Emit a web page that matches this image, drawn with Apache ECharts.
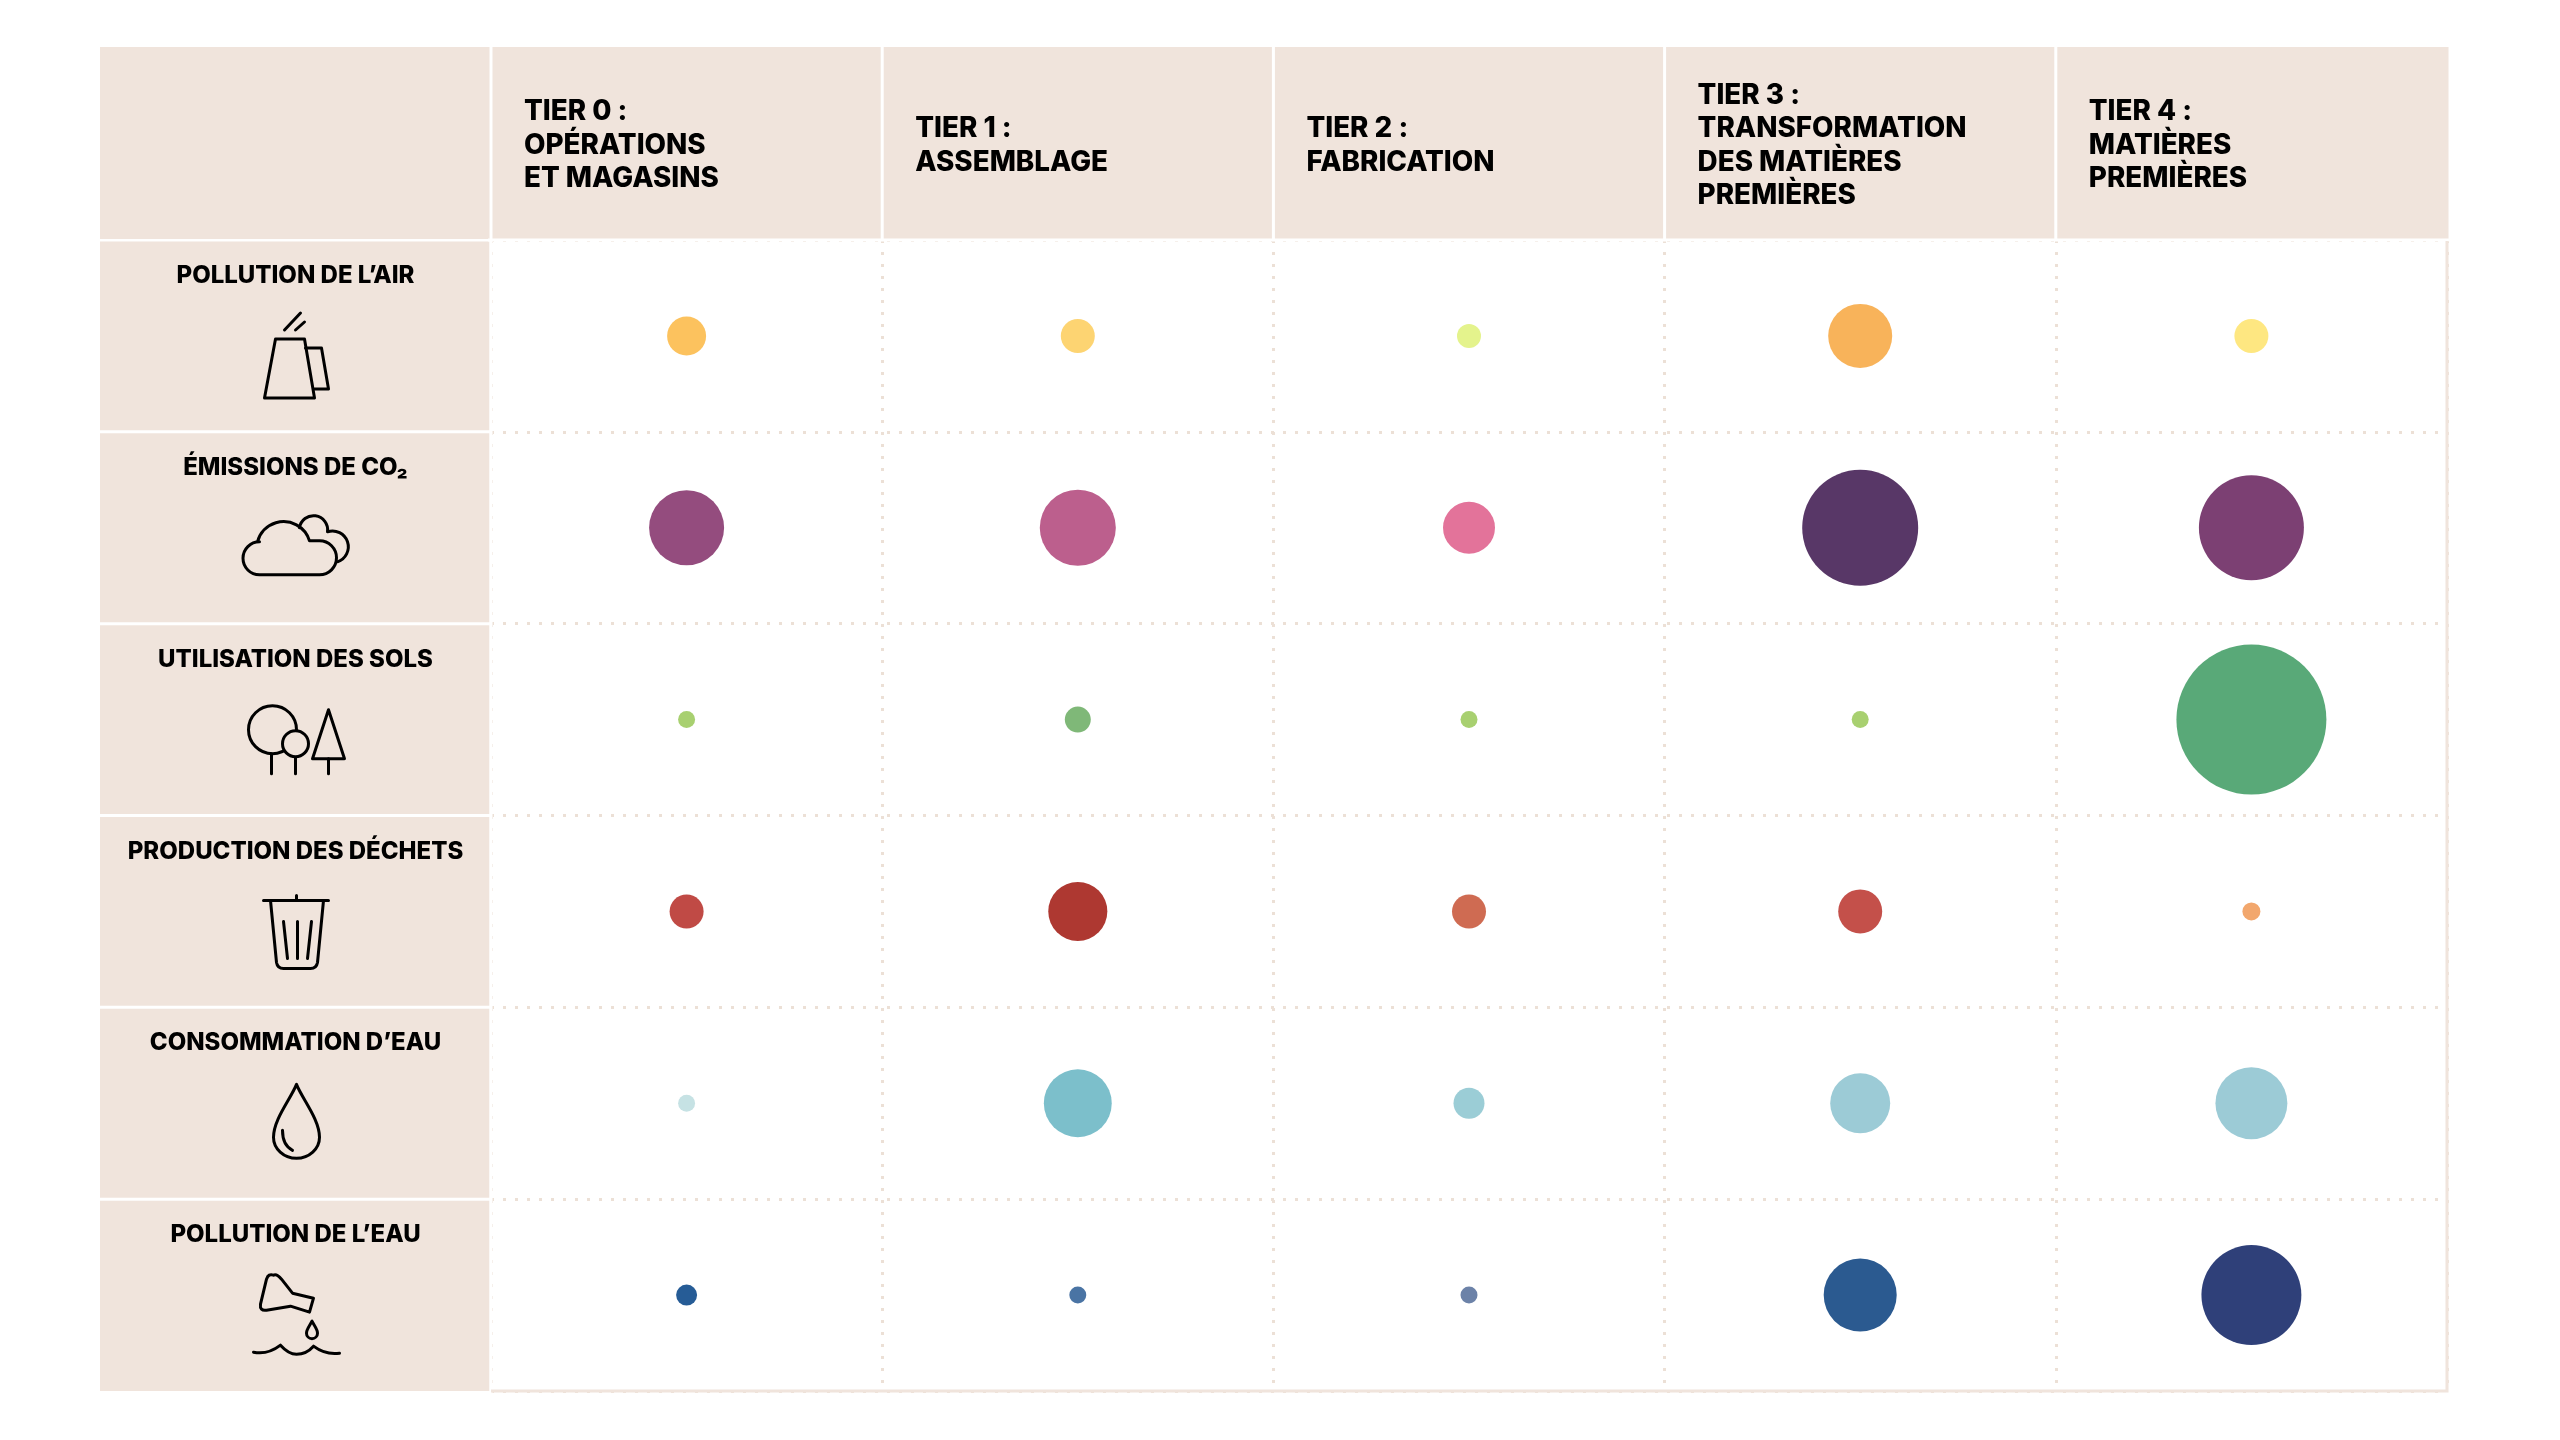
<!DOCTYPE html>
<html><head><meta charset="utf-8">
<style>html,body{margin:0;padding:0;background:#fff}#c{width:2560px;height:1440px}</style>
<script src="https://cdn.jsdelivr.net/npm/echarts@6/dist/echarts.min.js"></script>
</head><body><div id="c"></div>
<script>
// ---- data ----
const tiers = ['TIER 0 :\nOPÉRATIONS\nET MAGASINS','TIER 1 :\nASSEMBLAGE','TIER 2 :\nFABRICATION','TIER 3 :\nTRANSFORMATION\nDES MATIÈRES\nPREMIÈRES','TIER 4 :\nMATIÈRES\nPREMIÈRES'];
const impacts = ['POLLUTION DE L’AIR','ÉMISSIONS DE CO₂','UTILISATION DES SOLS','PRODUCTION DES DÉCHETS','CONSOMMATION D’EAU','POLLUTION DE L’EAU'];
const airPollution   = [6.76, 5.14, 2.56, 18.2, 5.14];
const co2Emissions   = [25, 25.7, 12, 59.8, 49];
const landUse        = [1.28, 3, 1.28, 1.28, 100];
const wasteOutput    = [5.14, 15.5, 5.14, 8.6, 1.44];
const waterUse       = [1.28, 20.5, 4.27, 16, 23];
const waterPollution = [1.96, 1.28, 1.28, 23.7, 44.4];
const rows = [airPollution, co2Emissions, landUse, wasteOutput, waterUse, waterPollution];

// ---- styles ----
const palette = [
 ['#fcc25e','#fdd472','#e4f38c','#f8b35a','#fee781'],
 ['#944c7e','#bc5f8d','#e3739a','#583767','#7c4073'],
 ['#a8d070','#7fb878','#a8d070','#a8d070','#59a978'],
 ['#c04a45','#ae3831','#cf6b52','#c4504a','#f2a76d'],
 ['#c6e2e4','#7cbfcb','#9bcdd6','#9ccbd6','#9ccbd6'],
 ['#265c96','#4a74a4','#6c82a8','#2b5a90','#2f4079']
];
const BEIGE='#f0e4dc', FONT='Inter, sans-serif';
const L=100, GL=491, GR=2447, HT=47, GT=240, GB=1391;
const cw=(GR-GL)/5, rh=(GB-GT)/6, cx0=(L+GL)/2;

const icons = [
 [{d:'M-20 99 H9 L19 158 H-31 Z'},{d:'M10 108 H26 L33 149 H19'},{d:'M-11 90 L5 73 M0 90 L9 82'}],
 [{d:'M4 96 A14 14 0 0 1 32 100 A15 15 0 0 1 42 130'},{d:'M-36 143 H24 A17 17 0 0 0 24 109 L14 109 A27 27 0 0 0 -38 110 H-36 A16.5 16.5 0 0 0 -36 143 Z'}],
 [{d:'M-24 130 V150 M0 133 V150 M33 135 V150'},{d:'M-47 106 a24 24 0 1 0 48 0 a24 24 0 1 0 -48 0 Z'},{d:'M-13 120 a13 13 0 1 0 26 0 a13 13 0 1 0 -26 0 Z',fill:BEIGE},{d:'M33 86 L49 135 H17 Z'}],
 [{d:'M-32 85 H33 M1 80 V85 M-25 85 L-19 147 Q-18 153 -12 153 H15 Q21 153 22 147 L28 85 M-12 106 L-8 143 M2 106 V143 M16 106 L12 143'}],
 [{d:'M1 77 C-5 92 -22 112 -22 130 A23 21 0 0 0 24 130 C24 112 7 92 1 77 Z M-13 123 C-13 133 -9 140 -3 143'}],
 [{d:'M-22 76 Q-27 74 -29 80 L-35 105 Q-36 112 -29 111 L-5 107 L14 113 L18 99 L-3 94 L-14 80 Q-19 74 -22 76 Z M16.5 122 C14 127 11 130 11 134 A5.5 5.5 0 0 0 22 134 C22 130 19 127 16.5 122 Z M-42 153 Q-28 156 -15 146 Q-7 155 1 155 Q11 155 18 147 Q30 156 44 154'}]
];

const graphics = [];
graphics.push({type:'rect',z:0,shape:{x:L,y:HT,width:GL-L-1.5,height:GT-HT-1},style:{fill:BEIGE}});
for(let i=0;i<5;i++){
  graphics.push({type:'rect',z:0,shape:{x:GL+i*cw+1.5,y:HT,width:cw-(i===4?0:3),height:GT-HT-1},style:{fill:BEIGE}});
}
let iconId=0;
impacts.forEach((_,r)=>{
  const top=GT+r*rh;
  graphics.push({type:'rect',z:0,shape:{x:L,y:top+1.5,width:GL-L-1.5,height:rh-(r===5?1.5:3)},style:{fill:BEIGE}});
  icons[r].forEach(p=>{
    const name='iconPart'+(iconId++);
    echarts.graphic.registerShape(name,echarts.graphic.extendPath(p.d,{}));
    graphics.push({type:name,z:1,x:cx0,y:top,
      style:{fill:p.fill||'none',stroke:'#000',lineWidth:3,lineJoin:'round',lineCap:'round'}});
  });
});
// hide the dotted rules on the grid's top and left edges, draw the solid right and bottom edge
graphics.push({type:'rect',z:6,shape:{x:GL-3,y:GT-1.5,width:GR-GL+6,height:3},style:{fill:'#fff'}});
graphics.push({type:'rect',z:6,shape:{x:GL-1.5,y:GT,width:3,height:GB-GT+3},style:{fill:'#fff'}});
graphics.push({type:'polyline',z:6,shape:{points:[[GR,GT+1],[GR,GB],[GL,GB]]},style:{fill:'none',stroke:BEIGE,lineWidth:3}});

const chart = echarts.init(document.getElementById('c'),null,{renderer:'canvas'});
const dotted={show:true,lineStyle:{type:[3,9],width:3,color:'#ece0d6'}};
chart.setOption({
  animation:false,
  backgroundColor:'#fff',
  grid:{left:GL,right:2560-GR,top:GT,bottom:1440-GB},
  xAxis:{type:'category',position:'top',data:tiers,z:5,
    axisLine:{show:false},axisTick:{show:false},splitLine:dotted,
    axisLabel:{interval:0,margin:GT-(HT+GT)/2-2,verticalAlign:'middle',
      formatter:v=>v.split('\n').map(s=>'{a|'+s+'}').join('\n'),
      rich:{a:{fontFamily:FONT,fontWeight:800,fontSize:27.8,lineHeight:33.5,color:'#000',align:'left',width:cw-66}}}},
  yAxis:{type:'category',inverse:true,data:impacts,z:5,
    axisLine:{show:false},axisTick:{show:false},splitLine:dotted,
    axisLabel:{interval:0,margin:GL-cx0,align:'center',verticalAlign:'middle',
      formatter:v=>'{a|'+v+'}',
      rich:{a:{fontFamily:FONT,fontWeight:800,fontSize:24,color:'#000',padding:[0,0,120,0]}}}},
  graphic:graphics,
  series:rows.map((vals,r)=>({
    type:'scatter',silent:true,z:4,
    data:vals.map((v,c)=>[c,r,v]),
    symbol:'circle',
    symbolSize:d=>15*Math.sqrt(d[2]),
    itemStyle:{color:p=>palette[r][p.dataIndex],opacity:1}
  }))
});
</script></body></html>
